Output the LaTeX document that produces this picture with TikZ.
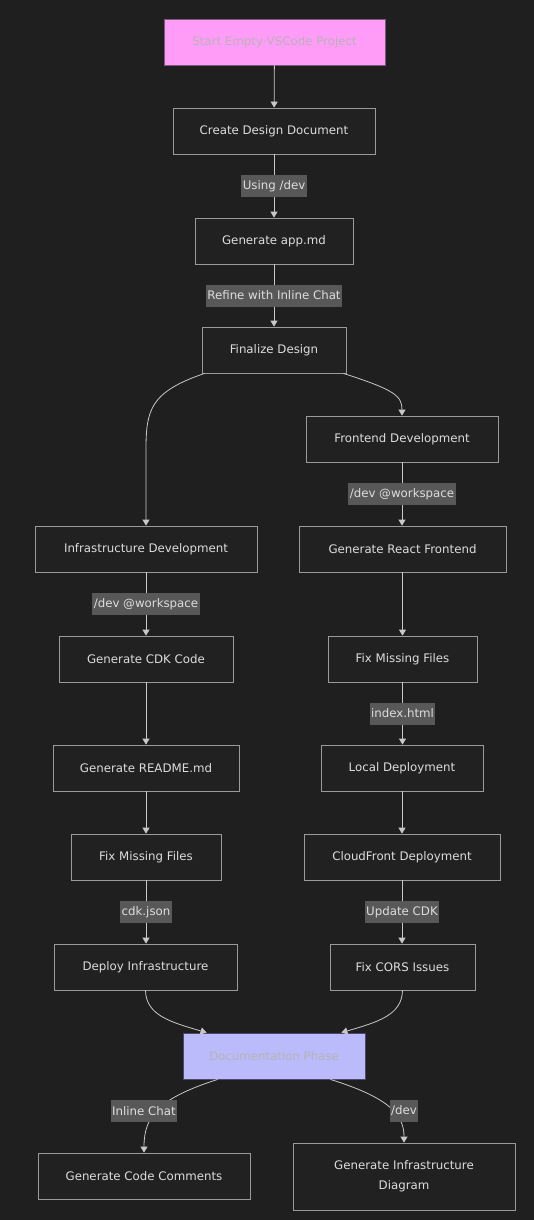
\documentclass[tikz,border=0pt]{standalone}
\usepackage{fontspec}
\setmainfont{DejaVu Sans}
\usetikzlibrary{arrows.meta}
\definecolor{bgc}{HTML}{1F1F1F}
\definecolor{boxfill}{HTML}{212121}
\definecolor{boxline}{HTML}{9A9A9A}
\definecolor{txt}{HTML}{DDDDDD}
\definecolor{lblbg}{HTML}{585858}
\definecolor{edgec}{HTML}{C8C8C8}
\definecolor{pinkf}{HTML}{FF9CF8}
\definecolor{pinkl}{HTML}{7A5A7A}
\definecolor{bluef}{HTML}{BBBBFC}
\definecolor{bluel}{HTML}{4A4A6E}
\definecolor{softtxt}{HTML}{B4B4B4}
\tikzset{
  box/.style={draw=boxline, line width=0.8pt, fill=boxfill, text=txt, minimum height=46pt, inner sep=0pt, font=\fontsize{11.8}{14}\selectfont, align=center},
  lbl/.style={fill=lblbg, text=txt, inner xsep=1.5pt, inner ysep=2pt, minimum height=22pt, font=\fontsize{11.8}{14}\selectfont},
  arr/.style={draw=edgec, line width=0.8pt, -{Triangle[length=6pt,width=7pt]}},
}
\begin{document}
\begin{tikzpicture}[x=1pt,y=-1pt]
\fill[bgc] (0,0) rectangle (534,1220);
\useasboundingbox (0,0) rectangle (534,1220);

\node[box, fill=pinkf, draw=pinkl, text=softtxt, minimum width=221pt] (start) at (274.5,42) {Start Empty VSCode Project};
\node[box, minimum width=202pt] (cdd) at (274,131) {Create Design Document};
\node[box, minimum width=158pt] (gam) at (274,241) {Generate app.md};
\node[box, minimum width=144pt] (fin) at (274,350) {Finalize Design};
\node[box, minimum width=192pt] (fe) at (402,439) {Frontend Development};
\node[box, minimum width=207pt] (grf) at (402.5,549) {Generate React Frontend};
\node[box, minimum width=222pt] (inf) at (146,549) {Infrastructure Development};
\node[box, minimum width=174pt] (cdk) at (146,659) {Generate CDK Code};
\node[box, minimum width=149pt] (fmr) at (402.5,659) {Fix Missing Files};
\node[box, minimum width=162pt] (loc) at (402,768) {Local Deployment};
\node[box, minimum width=186pt] (rdm) at (146,768) {Generate README.md};
\node[box, minimum width=150pt] (fml) at (146,857) {Fix Missing Files};
\node[box, minimum width=196pt] (cf) at (402,857) {CloudFront Deployment};
\node[box, minimum width=183pt] (dep) at (145.5,967) {Deploy Infrastructure};
\node[box, minimum width=145pt] (cors) at (402.5,967) {Fix CORS Issues};
\node[box, fill=bluef, draw=bluel, text=softtxt, minimum width=182pt] (doc) at (274,1056) {Documentation Phase};
\node[box, minimum width=212pt] (gcc) at (144,1176) {Generate Code Comments};
\node[box, minimum width=222pt, minimum height=67pt] (gid) at (404,1176.5) {Generate Infrastructure\\[6pt]Diagram};

% straight edges with labels
\draw[arr] (start) -- (cdd);
\draw[arr] (cdd) -- node[lbl] (l1) {Using /dev} (gam);
\draw[arr] (gam) -- node[lbl] (l2) {Refine with Inline Chat} (fin);
\draw[arr] (fe) -- node[lbl] (l3) {/dev @workspace} (fe |- grf.north);
\draw[arr] (inf) -- node[lbl] (l4) {/dev @workspace} (cdk);
\draw[arr] (cdk) -- (rdm);
\draw[arr] (rdm) -- (fml);
\draw[arr] (fml) -- node[lbl] (l5) {cdk.json} (fml |- dep.north);
\draw[arr] (fmr |- grf.south) -- (fmr);
\draw[arr] (fmr) -- node[lbl] (l6) {index.html} (fmr |- loc.north);
\draw[arr] (loc) -- (loc |- cf.north);
\draw[arr] (cf) -- node[lbl] (l7) {Update CDK} (cf |- cors.north);

% curved edges
\draw[arr] ([xshift=3pt]fin.south west) .. controls (150,392) and (146,410) .. (146,450) -- (inf.north);
\draw[arr] ([xshift=-3pt]fin.south east) .. controls (395,390) and (402,396) .. (fe.north);
\draw[arr] (dep.south) .. controls (146,1015) and (170,1022) .. ([xshift=24pt]doc.north west);
\draw[arr] (cors.south) .. controls (402,1015) and (378,1022) .. ([xshift=-24pt]doc.north east);
\draw[arr] ([xshift=35pt]doc.south west) .. controls (160,1098) and (144,1115) .. (gcc.north);
\draw[arr] ([xshift=-35pt]doc.south east) .. controls (390,1098) and (404,1115) .. (gid.north);
\node[lbl] (l8) at (144,1111) {Inline Chat};
\node[lbl] (l9) at (404,1111) {/dev};
\end{tikzpicture}
\end{document}
